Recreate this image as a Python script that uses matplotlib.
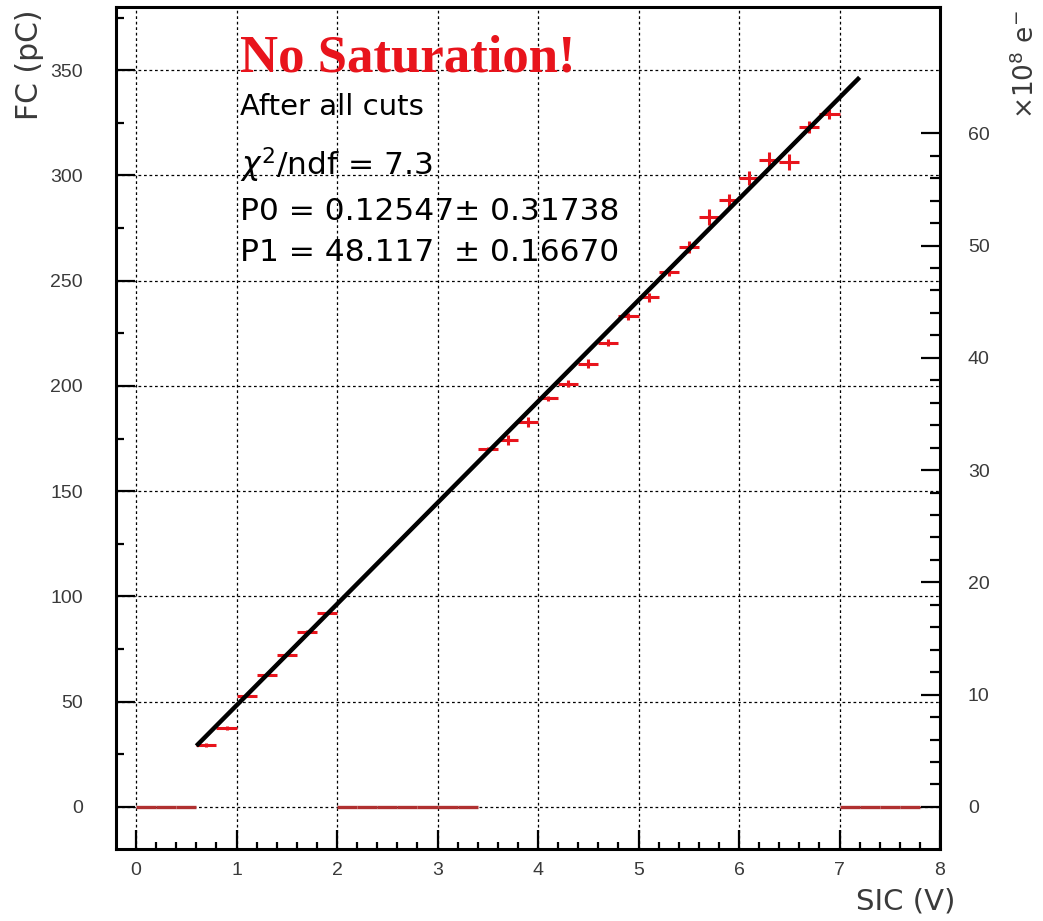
import matplotlib
matplotlib.use("Agg")
import matplotlib.pyplot as plt
import numpy as np
from matplotlib.ticker import MultipleLocator, FixedLocator

# SIC bin centres (V) and mean FC (pC) per bin
sic = [0.7, 0.9, 1.1, 1.3, 1.5, 1.7, 1.9,
       3.5, 3.7, 3.9, 4.1, 4.3, 4.5, 4.7, 4.9, 5.1, 5.3, 5.5,
       5.7, 5.9, 6.1, 6.3, 6.5, 6.7, 6.9]
fc = [29.4, 37.3, 52.7, 62.7, 72.2, 83.3, 92.1,
      170.0, 174.4, 182.7, 194.2, 201.0, 210.6, 220.5, 233.1, 242.0, 254.3, 266.1,
      280.3, 288.2, 298.8, 307.1, 306.3, 322.9, 329.2]
fc_err = [0.8, 1.0, 0.6, 0.6, 0.6, 0.6, 0.6,
          1.0, 2.4, 2.4, 1.2, 1.6, 2.1, 1.6, 1.6, 2.0, 2.1, 2.8,
          3.8, 3.2, 3.3, 4.1, 3.8, 2.8, 2.4]
bin_half_width = 0.1

# empty bins (drawn at zero)
empty_bins = [0.1, 0.3, 0.5,
              2.1, 2.3, 2.5, 2.7, 2.9, 3.1, 3.3,
              7.1, 7.3, 7.5, 7.7]
empty_fc = [0.0] * len(empty_bins)

# linear fit result
p0 = 0.12547
p1 = 48.117
fit_range = [0.6, 7.2]
stats_lines = [r"$\chi^{2}$/ndf = 7.3",
               "P0 = 0.12547\u00b1 0.31738",
               "P1 = 48.117  \u00b1 0.16670"]

# FC (pC) -> x10^8 electrons scale for the right axis
electrons_per_pc = 60.0 / 320.0

W, H = 1043, 921
fig = plt.figure(figsize=(W / 100, H / 100), dpi=100)
ax = fig.add_axes([116 / W, 1 - 849 / H, (940 - 116) / W, (849 - 7) / H])

ax.set_xlim(-0.2, 8.0)
ax.set_ylim(-20, 380)

# grid
grid_style = dict(color="black", linewidth=0.9, linestyle=(0, (2.2, 2.2)))
for gx in range(0, 8):
    ax.axvline(gx, zorder=1, **grid_style)
for gy in range(0, 351, 50):
    ax.axhline(gy, zorder=1, **grid_style)

# histogram points
ax.errorbar(empty_bins, empty_fc, xerr=bin_half_width, fmt="none",
            ecolor="#b03030", elinewidth=2.4, capsize=0, zorder=3)
ax.errorbar(sic, fc, xerr=bin_half_width, yerr=fc_err, fmt="none",
            ecolor="#e8141c", elinewidth=2.2, capsize=0, zorder=3)

# fit line
xf = np.array(fit_range)
ax.plot(xf, p0 + p1 * xf, color="black", linewidth=3.2, zorder=4,
        solid_capstyle="butt")

# frame and ticks
for s in ax.spines.values():
    s.set_linewidth(2.2)
ax.xaxis.set_major_locator(MultipleLocator(1))
ax.xaxis.set_minor_locator(FixedLocator(np.arange(0, 8.01, 0.2)))
ax.yaxis.set_major_locator(MultipleLocator(50))
ax.yaxis.set_minor_locator(MultipleLocator(25))
ax.tick_params(axis="both", which="both", direction="in", top=False, right=False,
               labelcolor="#3a3a3a", labelsize=14, width=1.6)
ax.tick_params(axis="x", which="major", length=14, pad=9)
ax.tick_params(axis="x", which="minor", length=5)
ax.tick_params(axis="y", which="major", length=14, pad=24)
ax.tick_params(axis="y", which="minor", length=6)
for lab in ax.get_xticklabels() + ax.get_yticklabels():
    lab.set_fontfamily("Liberation Sans")

# right axis in units of 10^8 electrons
ax2 = ax.twinx()
ax2.set_ylim(-20 * electrons_per_pc, 380 * electrons_per_pc)
ax2.yaxis.set_major_locator(FixedLocator(np.arange(0, 61, 10)))
ax2.yaxis.set_minor_locator(FixedLocator(np.arange(0, 61, 2)))
ax2.tick_params(axis="y", which="both", direction="in", left=False, right=True,
                labelcolor="#3a3a3a", labelsize=14, width=1.6)
ax2.tick_params(axis="y", which="major", length=14, pad=20)
ax2.tick_params(axis="y", which="minor", length=7)
for s in ax2.spines.values():
    s.set_visible(False)
for lab in ax2.get_yticklabels():
    lab.set_fontfamily("Liberation Sans")

# axis titles
fig.text(30 / W, 1 - 10 / H, "FC (pC)", rotation=90, ha="center", va="top",
         fontsize=21.5, color="#3a3a3a", family="DejaVu Sans")
fig.text(955 / W, 1 - 915 / H, "SIC (V)", ha="right", va="bottom",
         fontsize=21, color="#3a3a3a", family="DejaVu Sans")
fig.text(1026 / W, 1 - 10 / H, "\u00d710$^{8}$ e$^{-}$", rotation=90,
         ha="center", va="top", fontsize=19, color="#3a3a3a", family="DejaVu Sans")

# annotations
fig.text(240 / W, 1 - 72 / H, "No Saturation!", ha="left", va="baseline",
         fontsize=38, fontweight="bold", color="#e8141c", family="Liberation Serif")
fig.text(240 / W, 1 - 115 / H, "After all cuts", ha="left", va="baseline",
         fontsize=21, color="black", family="DejaVu Sans")
for txt, base in zip(stats_lines, [175, 220, 261]):
    fig.text(240 / W, 1 - base / H, txt, ha="left", va="baseline",
             fontsize=22.5, color="black", family="DejaVu Sans")

fig.savefig("out.png", dpi=100)
plt.close(fig)
